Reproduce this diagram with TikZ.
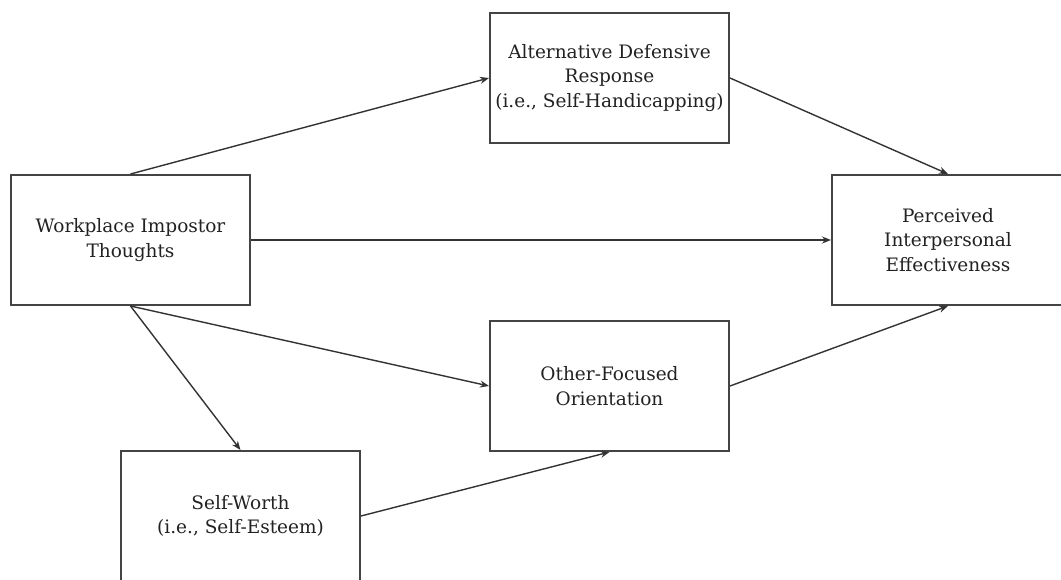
\documentclass[tikz,border=0pt]{standalone}
\usepackage{fontspec}
\setmainfont{DejaVu Serif}
\usetikzlibrary{arrows.meta}
\definecolor{boxline}{HTML}{444444}
\definecolor{arrline}{HTML}{333333}
\definecolor{txt}{HTML}{222222}
\tikzset{
  blockbox/.style={draw=boxline, line width=2pt, minimum width=239pt, minimum height=130pt,
    inner sep=0pt, align=center, text=txt, font=\fontsize{18.5}{24.5}\selectfont},
  link/.style={draw=arrline, line width=1.4pt, -{Stealth[length=9pt,width=7pt]}}
}
\begin{document}
\begin{tikzpicture}[x=1pt,y=-1pt]
\useasboundingbox (0,0) rectangle (1061,579);
\fill[white] (0,0) rectangle (1061,579);
\clip (0,0) rectangle (1061,579);
\node[blockbox] (wit) at (130.5,240) {Workplace Impostor\\Thoughts};
\node[blockbox] (adr) at (609.5,78) {Alternative Defensive\\Response\\(i.e., Self-Handicapping)};
\node[blockbox, minimum width=232pt] (pie) at (948,240) {Perceived\\Interpersonal\\Effectiveness};
\node[blockbox] (ofo) at (609.5,386) {Other-Focused\\Orientation};
\node[blockbox] (sw) at (240.5,516) {Self-Worth\\(i.e., Self-Esteem)};
\draw[link] (wit.north) -- (adr.west);
\draw[link] (adr.east) -- (pie.north);
\draw[link] (wit.east) -- (pie.west);
\draw[link] (wit.south) -- (ofo.west);
\draw[link] (wit.south) -- (sw.north);
\draw[link] (sw.east) -- (ofo.south);
\draw[link] (ofo.east) -- (pie.south);
\end{tikzpicture}
\end{document}
